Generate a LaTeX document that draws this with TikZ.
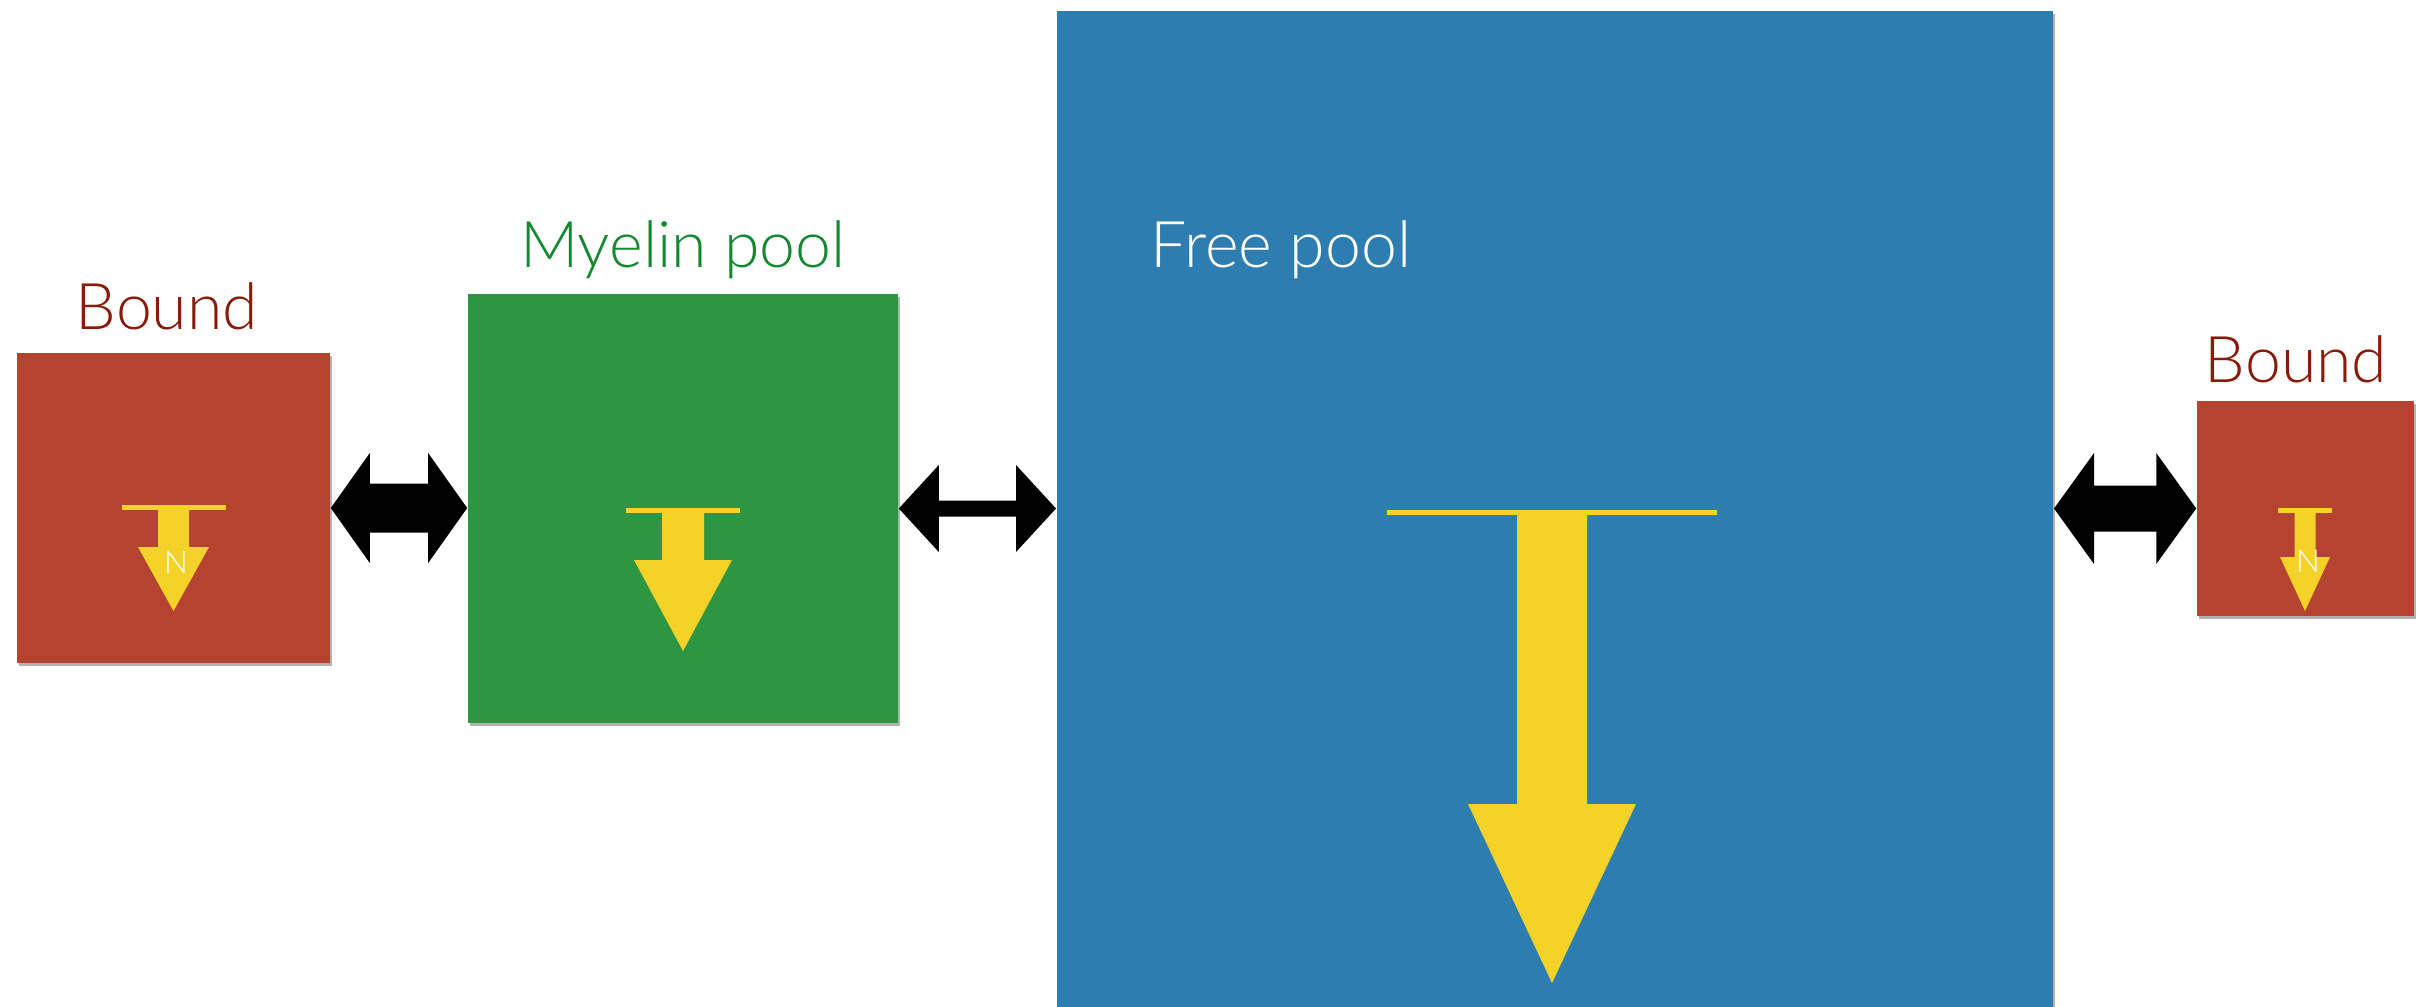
\documentclass[tikz,border=0pt]{standalone}
\usepackage{fontspec}
\setmainfont{Lato}[UprightFont=* Light]
\usetikzlibrary{positioning, calc, shadows}

\definecolor{boundfill}{HTML}{B4432F}
\definecolor{boundtext}{HTML}{8A1A08}
\definecolor{myelinfill}{HTML}{2E9642}
\definecolor{myelintext}{HTML}{12892F}
\definecolor{freefill}{HTML}{2D7DB0}
\definecolor{relaxyellow}{HTML}{F5D227}

% freccia doppia piena: da, a, mezzo gambo, lunghezza punta, mezza punta
\newcommand{\exchangearrow}[5]{%
    \fill[black] (#1) -- ++(#4,-#5) -- ++(0,#5-#3) -- ($(#2)+(-#4,-#3)$) -- ++(0,#3-#5) -- (#2)
        -- ++(-#4,#5) -- ++(0,#3-#5) -- ($(#1)+(#4,#3)$) -- ++(0,#5-#3) -- cycle;}

\tikzset{
  pool/.style={rectangle, inner sep=0pt, draw=none,
    drop shadow={shadow xshift=0.6pt, shadow yshift=-0.8pt, opacity=0.3, fill=black}},
  poollabel/.style={font=\fontsize{18.3}{22}\selectfont, anchor=base, inner sep=0pt},
  nlabel/.style={font=\fontsize{9}{10}\selectfont, text=white, inner sep=0pt}
}

\begin{document}
\begin{tikzpicture}[x=0.01cm, y=-0.01cm]
    \useasboundingbox (0,0) rectangle (2428,1006);
    \fill[white] (0,0) rectangle (2428,1006);

    % Compartimenti
    \node[pool, fill=boundfill, minimum width=3.13cm, minimum height=3.10cm] (bL) at (173.5,508) {};
    \node[pool, fill=myelinfill, minimum width=4.30cm, minimum height=4.29cm] (mp) at (683,508.5) {};
    \node[pool, fill=freefill, minimum width=9.96cm, minimum height=10.0cm] (fp) at (1555,511) {};
    \node[pool, fill=boundfill, minimum width=2.17cm, minimum height=2.15cm] (bR) at (2305.5,508.5) {};

    % Etichette
    \node[poollabel, text=boundtext] (lbL) at (167,329) {Bound};
    \node[poollabel, text=myelintext] (lmp) at (683,267) {Myelin pool};
    \node[poollabel, text=white, anchor=base west] (lfp) at (1150,267) {Free pool};
    \node[poollabel, text=boundtext] (lbR) at (2296,382) {Bound};

    % Frecce di rilassamento (centro, mezza barra, mezzo gambo, mezza punta, cima, collo, punta)
    \foreach \cx/\bw/\sw/\hw/\top/\neck/\tip in {173.5/52/15.5/35.5/505/547/611,
        683/57/21/49/508/560/651, 1552/165/35/84/510/804/983, 2305/27/10.5/25/508/557/611} {
        \fill[relaxyellow] (\cx-\bw,\top) rectangle (\cx+\bw,\top+5);
        \fill[relaxyellow] (\cx-\sw,\top+4) -- (\cx+\sw,\top+4) -- (\cx+\sw,\neck) -- (\cx+\hw,\neck)
            -- (\cx,\tip) -- (\cx-\hw,\neck) -- (\cx-\sw,\neck) -- cycle;
    }
    \node[nlabel] (nL) at (176,562) {N};
    \node[nlabel] (nR) at (2308,561) {N};

    % Scambi tra i compartimenti
    \exchangearrow{bL.east}{mp.west |- bL.east}{24.5}{39}{55}
    \exchangearrow{mp.east}{fp.west |- mp.east}{8}{40}{43.5}
    \exchangearrow{fp.east |- bR.west}{bR.west}{23}{40}{55.5}
\end{tikzpicture}
\end{document}
